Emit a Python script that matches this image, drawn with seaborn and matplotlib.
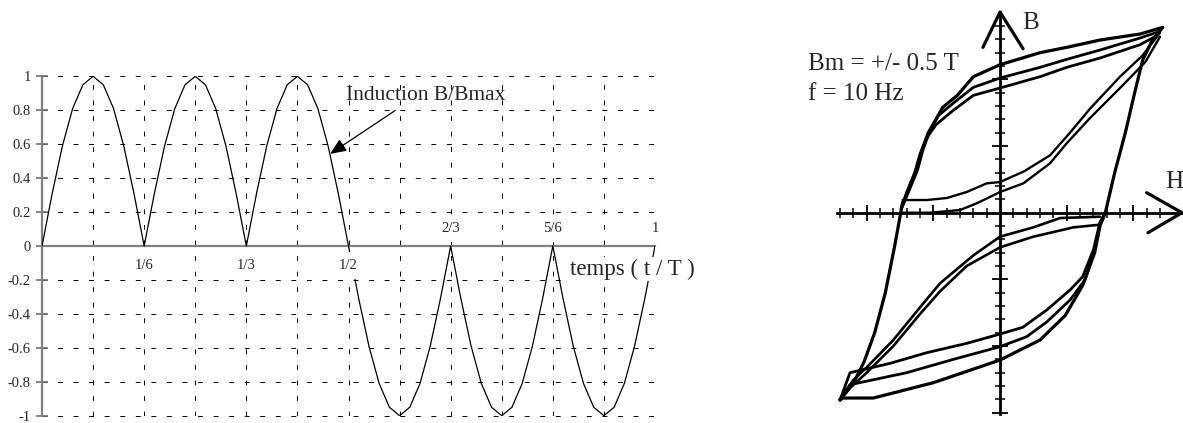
import matplotlib
matplotlib.use("Agg")
import matplotlib.pyplot as plt
import pandas as pd
import seaborn as sns

sns.set_theme(style="white")
plt.rcParams["font.family"] = ["Liberation Serif", "DejaVu Serif"]

# ---------------------------------------------------------------- data
# induction waveform B/Bmax, one sample every T/60
t_steps = list(range(61))
b_ratio = [0.0, 0.31, 0.59, 0.81, 0.95, 1.0, 0.95, 0.81, 0.59, 0.31,
           0.0, 0.31, 0.59, 0.81, 0.95, 1.0, 0.95, 0.81, 0.59, 0.31,
           0.0, 0.31, 0.59, 0.81, 0.95, 1.0, 0.95, 0.81, 0.59, 0.31,
           0.0,
           -0.31, -0.59, -0.81, -0.95, -1.0, -0.95, -0.81, -0.59, -0.31, 0.0,
           -0.31, -0.59, -0.81, -0.95, -1.0, -0.95, -0.81, -0.59, -0.31, 0.0,
           -0.31, -0.59, -0.81, -0.95, -1.0, -0.95, -0.81, -0.59, -0.31, 0.0]
y_ticks = [1.0, 0.8, 0.6, 0.4, 0.2, 0.0, -0.2, -0.4, -0.6, -0.8, -1.0]
y_tick_labels = ["1", "0.8", "0.6", "0.4", "0.2", "0", "-0.2", "-0.4", "-0.6", "-0.8", "-1"]
grid_t = [1/12, 2/12, 3/12, 4/12, 5/12, 6/12, 7/12, 8/12, 9/12, 10/12, 11/12, 1.0]
frac_pos = [1/6, 1/3, 1/2, 2/3, 5/6, 1.0]
frac_labels = ["1/6", "1/3", "1/2", "2/3", "5/6", "1"]

# B-H hysteresis traces (H and B in axis-graduation units)
top1_H = [12.2, 10.5, 7.5, 5.0, 3.0, 0.0, -2.0, -3.2, -4.3, -5.25, -5.8, -6.2, -6.9, -7.4]
top1_B = [13.9, 13.4, 12.95, 12.4, 12.0, 11.1, 10.2, 8.8, 7.9, 6.2, 4.7, 3.2, 1.5, 0.3]
top2_H = [12.0, 10.5, 7.5, 5.0, 3.0, 0.0, -2.0, -3.4, -4.6, -5.4, -5.9, -6.3, -7.0, -7.4]
top2_B = [13.6, 13.1, 12.2, 11.5, 10.9, 10.1, 9.4, 8.3, 7.3, 6.0, 4.6, 3.2, 1.5, 0.4]
top3_H = [11.8, 10.5, 7.5, 5.0, 3.0, 0.0, -2.0, -3.6, -4.8, -5.5, -6.0, -6.4, -7.0, -7.3]
top3_B = [13.3, 12.6, 11.6, 10.9, 10.2, 9.35, 8.8, 7.6, 6.6, 5.6, 4.4, 3.0, 1.5, 0.6]
left_H = [-7.3, -7.9, -8.6, -9.4, -10.2, -10.8, -11.4, -12.0]
left_B = [0.8, -2.5, -6.0, -9.0, -11.2, -12.4, -13.3, -14.05]

bot1_H = [-12.0, -11.25, -8.25, -5.5, -2.5, 0.0, 1.7, 3.5, 5.25, 6.2, 7.0, 7.5, 7.9]
bot1_B = [-14.05, -12.0, -11.3, -10.5, -9.8, -9.1, -8.6, -7.3, -5.8, -4.8, -2.8, -0.7, 0.0]
bot2_H = [-12.0, -11.25, -7.0, -3.5, 0.0, 2.0, 3.5, 5.25, 6.4, 7.1, 7.5, 7.9]
bot2_B = [-14.05, -12.9, -12.0, -11.0, -10.05, -9.3, -8.2, -6.55, -5.0, -2.8, -0.8, 0.0]
bot3_H = [-12.0, -11.8, -9.5, -5.0, 0.0, 3.0, 4.9, 6.2, 7.1, 7.5, 7.9]
bot3_B = [-14.05, -13.9, -13.9, -12.75, -11.05, -9.55, -7.7, -5.45, -3.0, -1.0, 0.0]
right_H = [7.9, 8.6, 9.4, 10.1, 10.7, 11.4, 12.2]
right_B = [0.0, 3.0, 6.0, 9.0, 11.45, 12.9, 13.9]

up1_H = [-7.3, -5.5, -4.0, -2.5, -1.0, 0.0, 1.8, 3.75, 5.25, 6.75, 9.0, 10.7, 12.0]
up1_B = [0.95, 0.95, 1.1, 1.55, 2.2, 2.3, 3.1, 4.3, 6.0, 7.8, 10.2, 11.8, 13.5]
up2_H = [-7.4, -5.25, -3.0, -1.75, 0.0, 1.75, 3.75, 5.0, 6.75, 9.0, 10.9, 12.0]
up2_B = [0.0, 0.0, 0.2, 0.7, 1.55, 2.2, 3.7, 5.2, 7.1, 9.35, 11.3, 13.2]
lo1_H = [7.5, 4.5, 2.5, 0.0, -2.0, -4.5, -6.0, -8.0, -10.0, -11.0, -11.8]
lo1_B = [-0.3, -0.4, -1.1, -1.8, -3.2, -5.3, -7.1, -9.55, -11.6, -12.55, -13.7]
lo2_H = [7.5, 5.5, 2.5, 0.0, -2.5, -4.5, -6.0, -8.0, -10.0, -11.2, -12.0]
lo2_B = [-0.9, -1.1, -1.8, -2.6, -4.0, -5.9, -7.6, -10.0, -12.0, -13.1, -14.0]

# ---------------------------------------------------------------- figure
W, Hpx = 1183, 423
fig = plt.figure(figsize=(W / 100, Hpx / 100), dpi=100)
fig.patch.set_facecolor("white")

# ----- left panel: B/Bmax versus t/T
axL = fig.add_axes([42 / W, (Hpx - 415.7) / Hpx, 613 / W, 339.4 / Hpx])
wave = pd.DataFrame({"t": [k / 60 for k in t_steps], "B": b_ratio})
sns.lineplot(data=wave, x="t", y="B", ax=axL, color="black", lw=0.9,
             sort=False, zorder=3)
axL.set_xlim(0, 1)
axL.set_ylim(-1, 1)
axL.set_xlabel("")
axL.set_ylabel("")
axL.set_facecolor("white")

axL.set_xticks(grid_t)
axL.set_xticklabels([])
axL.tick_params(axis="x", length=0)
axL.set_yticks(y_ticks)
axL.set_yticklabels(y_tick_labels, fontsize=10.5)
axL.tick_params(axis="y", direction="inout", length=8, width=1.2,
                color="#707070", pad=4, left=True)
axL.grid(True, color="black", lw=0.7, linestyle=(0, (5, 11)))
for gl in axL.get_xgridlines() + axL.get_ygridlines():
    gl.set_clip_on(False)

for side in ("top", "right"):
    axL.spines[side].set_visible(False)
axL.spines["bottom"].set_position(("data", 0))
axL.spines["bottom"].set_color("#808080")
axL.spines["bottom"].set_linewidth(1.6)
axL.spines["left"].set_color("#808080")
axL.spines["left"].set_linewidth(1.6)

for pos, lab in zip(frac_pos, frac_labels):
    yy = -0.115 if pos <= 0.5 else 0.103
    axL.text(pos, yy, lab, ha="center", va="center", fontsize=10.5, zorder=6,
             bbox=dict(boxstyle="square,pad=0.45", fc="white", ec="none"))

axL.text(0.861, -0.135, "temps ( t / T )", ha="left", va="center",
         fontsize=16.5, zorder=6, clip_on=False,
         bbox=dict(boxstyle="square,pad=0.05", fc="white", ec="none"))
axL.text(0.496, 0.886, "Induction B/Bmax", ha="left", va="center",
         fontsize=15.5, zorder=6)
axL.annotate("", xy=(0.47, 0.543), xytext=(0.576, 0.798),
             arrowprops=dict(arrowstyle="-|>,head_length=0.7,head_width=0.3",
                             color="black", lw=0.9, mutation_scale=14,
                             shrinkA=0, shrinkB=0), zorder=6)

# ----- right panel: B-H loops
PX = 40 / 3          # pixels per graduation
ox, oy = 1000, 212.7  # origin in pixels
x0 = 760
axR = fig.add_axes([x0 / W, 0, (W - x0) / W, 1])
axR.set_xlim((x0 - ox) / PX, (W - ox) / PX)
axR.set_ylim((oy - Hpx) / PX, oy / PX)
axR.patch.set_alpha(0)

traces = [
    (top1_H, top1_B, 2.3), (top2_H, top2_B, 2.0), (top3_H, top3_B, 2.0),
    (left_H, left_B, 2.3),
    (bot1_H, bot1_B, 2.0), (bot2_H, bot2_B, 2.0), (bot3_H, bot3_B, 2.3),
    (right_H, right_B, 2.3),
    (up1_H, up1_B, 1.7), (up2_H, up2_B, 1.7),
    (lo1_H, lo1_B, 1.9), (lo2_H, lo2_B, 1.9),
]
for hh, bb, w in traces:
    df = pd.DataFrame({"H": hh, "B": bb})
    sns.lineplot(data=df, x="H", y="B", ax=axR, color="black", lw=w,
                 sort=False, estimator=None, zorder=3,
                 solid_capstyle="round", solid_joinstyle="round")

for side in ("top", "right"):
    axR.spines[side].set_visible(False)
for side in ("left", "bottom"):
    axR.spines[side].set_position(("data", 0))
    axR.spines[side].set_color("black")
    axR.spines[side].set_linewidth(2.0)
axR.spines["bottom"].set_bounds(-12.2, 13.65)
axR.spines["left"].set_bounds(-15.1, 15.05)
axR.set_xticks([-10, -5, 5, 10])
axR.set_xticks([h for h in range(-12, 13) if h % 5 != 0], minor=True)
axR.set_yticks([-15, -10, -5, 5, 10])
axR.set_yticks([b for b in range(-14, 15) if b % 5 != 0], minor=True)
axR.set_xticklabels([])
axR.set_yticklabels([])
axR.tick_params(which="major", direction="inout", length=11, width=1.3,
                color="black", bottom=True, left=True)
axR.tick_params(which="minor", direction="inout", length=6.5, width=1.1,
                color="black", bottom=True, left=True)
axR.set_xlabel("")
axR.set_ylabel("")

# open arrowheads at the end of each axis
axR.plot([-1.28, 0, 1.73], [12.4, 15.05, 12.3], color="black", lw=2.3,
         solid_capstyle="round", clip_on=False)
axR.plot([11.0, 13.65, 11.1], [1.5, 0, -1.5], color="black", lw=2.3,
         solid_capstyle="round", clip_on=False)
axR.text(2.3, 14.2, "B", ha="center", va="center", fontsize=18)
axR.text(13.05, 2.3, "H", ha="center", va="center", fontsize=18, clip_on=False)

fig.text(808 / W, 1 - 70 / Hpx, "Bm = +/- 0.5 T", ha="left", va="baseline",
         fontsize=18)
fig.text(808 / W, 1 - 100 / Hpx, "f = 10 Hz", ha="left", va="baseline",
         fontsize=18)

fig.savefig("out.png", dpi=100, facecolor="white")
